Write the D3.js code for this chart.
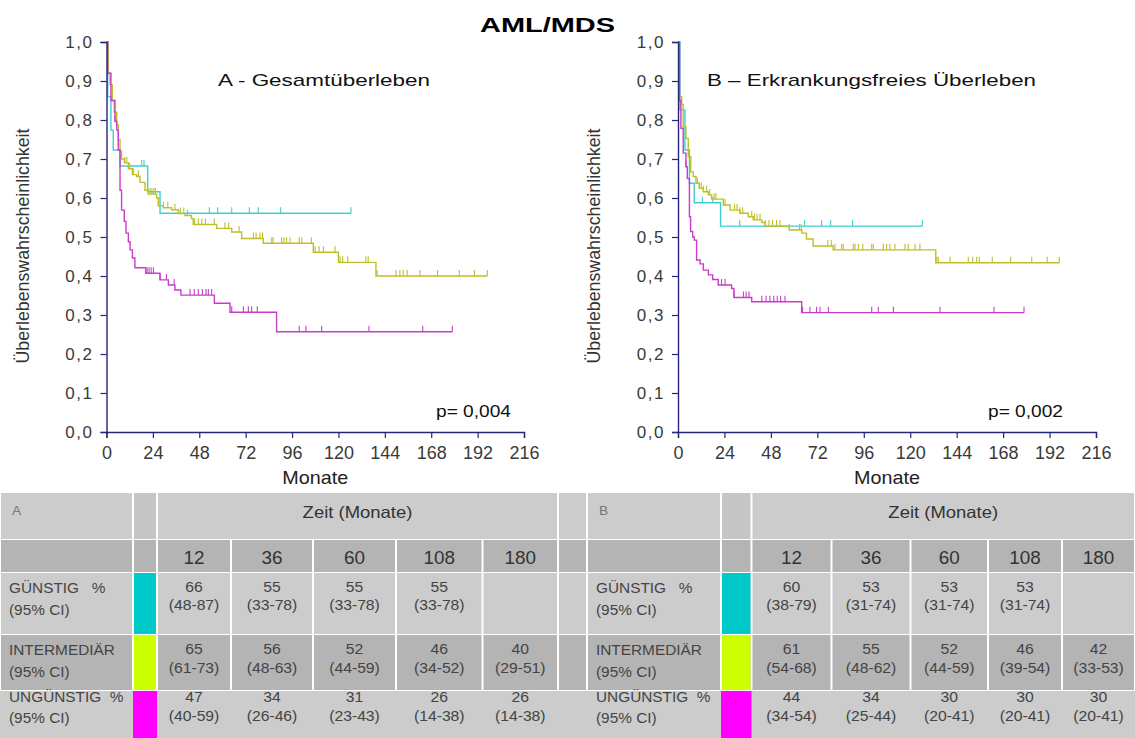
<!DOCTYPE html>
<html>
<head>
<meta charset="utf-8">
<script src="https://cdn.jsdelivr.net/npm/d3@7"></script>
<style>
  body { margin: 0; background: #fff; }
  svg { display: block; }
  text { font-family: "Liberation Sans", Arial, Helvetica, sans-serif; }
</style>
</head>
<body>
<script>
// Achsen
const xTicks = [0, 24, 48, 72, 96, 120, 144, 168, 192, 216];
const yTicks = [0, 0.1, 0.2, 0.3, 0.4, 0.5, 0.6, 0.7, 0.8, 0.9, 1.0];

// Kaplan-Meier Stufen [Monat, Überleben] – A Gesamtüberleben
const gunstigA = [[0, 1], [0.6, 0.86], [2.3, 0.774], [3.5, 0.723], [7.0, 0.682], [21.3, 0.616], [27.7, 0.561]];
const gunstigAEnd = 126.5;
const gunstigACens = [18.2, 19.4, 53.2, 57.5, 64.8, 73.9, 78.5, 90.1, 126.5];

const intermedA = [[0, 1], [0.9, 0.92], [1.8, 0.89], [3.0, 0.85], [4.0, 0.82], [5.3, 0.787], [6.1, 0.75], [7.0, 0.72], [7.8, 0.70],
  [9.2, 0.69], [11.3, 0.675], [13.4, 0.66], [15.6, 0.655], [17.3, 0.64], [19.9, 0.62], [21.6, 0.61], [26.0, 0.60], [26.8, 0.58],
  [29.4, 0.575], [33.7, 0.57], [37.2, 0.56], [40.6, 0.555], [44.0, 0.547], [44.9, 0.532], [57.0, 0.522], [64.8, 0.513],
  [69.9, 0.496], [81.1, 0.484], [107, 0.461], [120, 0.435], [139.4, 0.40]];
const intermedAEnd = 197;
const intermedACens = [9.5, 10.5, 12, 14, 16.5, 22.5, 23.5, 24.5, 25.3, 29.5, 31.7, 35.4, 38.2, 40, 41.9, 45.6, 47.5, 49.3, 51.2,
  55.8, 61.3, 63.2, 68.6, 76, 77.4, 79.4, 80.7, 85.5, 86.2, 90.6, 91.8, 93.2, 94.9, 99.7, 101, 106, 107.9, 110, 112.2, 118.2,
  120.8, 122.2, 124.8, 134.2, 135.4, 140, 149.8, 151.8, 153.5, 155.6, 162.2, 171.3, 182.5, 190.3, 197];

const ungunstigA = [[0, 1], [0.6, 0.92], [2.3, 0.85], [4.4, 0.796], [5.3, 0.774], [6.1, 0.723], [7.0, 0.62], [7.8, 0.569],
  [9.2, 0.54], [10.1, 0.51], [11.3, 0.488], [12.2, 0.467], [13.4, 0.446], [14.7, 0.421], [20.3, 0.407], [27.7, 0.39],
  [32, 0.377], [35.4, 0.364], [38.5, 0.351], [55.8, 0.33], [63.9, 0.307], [88, 0.257]];
const ungunstigAEnd = 178.9;
const ungunstigACens = [4.4, 21, 22, 23.1, 24.3, 27.7, 31, 35, 43.2, 45.4, 47.5, 49.6, 51.5, 52.7, 54.4, 64.8, 70.8, 73.4,
  75.1, 78, 99.7, 103.2, 111.3, 135.8, 163.6, 178.9];

// B Erkrankungsfreies Überleben
const gunstigB = [[0, 1], [1.0, 0.826], [3.6, 0.723], [5.9, 0.638], [8.4, 0.588], [22, 0.528]];
const gunstigBEnd = 126.3;
const gunstigBCens = [12.6, 18, 31.9, 65.4, 74.2, 78.9, 90.2, 126.3];

const intermedB = [[0, 1], [0.7, 0.86], [1.9, 0.84], [2.7, 0.783], [4.1, 0.753], [5.3, 0.706], [6.6, 0.667], [7.9, 0.655],
  [9.3, 0.638], [11, 0.625], [13.1, 0.616], [15.7, 0.608], [17.4, 0.597], [23.4, 0.582], [26.9, 0.569], [32, 0.561],
  [36.3, 0.552], [38.9, 0.544], [43.3, 0.537], [45, 0.528], [57.5, 0.518], [64, 0.51], [66.4, 0.495], [69.8, 0.477],
  [80.2, 0.467], [133.2, 0.434]];
const intermedBEnd = 197;
const intermedBCens = [10, 11, 12, 13.1, 14.8, 16.4, 18.7, 19.6, 24.3, 29.2, 30.5, 32, 33.4, 38.1, 39.5, 40.8, 42.4, 45.1, 47,
  48.9, 50.9, 52.7, 57.5, 62.8, 63.7, 77.4, 79.2, 81.1, 84.6, 85.4, 90.6, 91.5, 93.2, 95.5, 100.1, 100.9, 106.1, 107.8,
  109.5, 112.1, 117.3, 119, 122.5, 125, 133.7, 134.5, 140.6, 150, 152.3, 154.3, 155.7, 162.4, 171.9, 182.8, 190.8, 197];

const ungunstigB = [[0, 1], [0.8, 0.85], [1.5, 0.779], [2.7, 0.715], [4.1, 0.68], [4.8, 0.65], [5.9, 0.552], [6.5, 0.514],
  [7.6, 0.50], [8.4, 0.492], [9.6, 0.441], [11.4, 0.431], [13.1, 0.415], [15.7, 0.403], [17.9, 0.391], [20.8, 0.377],
  [27.7, 0.368], [28.9, 0.345], [38.1, 0.334], [63.9, 0.306]];
const ungunstigBEnd = 178.8;
const ungunstigBCens = [4.1, 22.5, 24.3, 29, 33.8, 35.2, 36.7, 43.3, 45.5, 47.5, 49.5, 51.3, 53, 55.3, 64.4, 68.2, 71.6,
  73.4, 77.7, 100.1, 103.5, 111.3, 135.4, 163.3, 178.8];

// Tabelle
const timeCols = ['12', '36', '60', '108', '180'];
const groupNames = ['GÜNSTIG   %', 'INTERMEDIÄR', 'UNGÜNSTIG  %'];
const ciLabel = '(95% CI)';
const tableA = [
  [['66', '(48-87)'], ['55', '(33-78)'], ['55', '(33-78)'], ['55', '(33-78)'], null],
  [['65', '(61-73)'], ['56', '(48-63)'], ['52', '(44-59)'], ['46', '(34-52)'], ['40', '(29-51)']],
  [['47', '(40-59)'], ['34', '(26-46)'], ['31', '(23-43)'], ['26', '(14-38)'], ['26', '(14-38)']]
];
const tableB = [
  [['60', '(38-79)'], ['53', '(31-74)'], ['53', '(31-74)'], ['53', '(31-74)'], null],
  [['61', '(54-68)'], ['55', '(48-62)'], ['52', '(44-59)'], ['46', '(39-54)'], ['42', '(33-53)']],
  [['44', '(34-54)'], ['34', '(25-44)'], ['30', '(20-41)'], ['30', '(20-41)'], ['30', '(20-41)']]
];

// Farben
const lineColors = ['#3dcfd2', '#bfbf2a', '#c93dcb'];
const swatchColors = ['#00c9c9', '#ccff00', '#ff00ff'];
const axisColor = '#26267a';
const lightCell = '#cccccc';
const darkCell = '#b4b4b4';

const svg = d3.select('body').append('svg')
  .attr('width', 1135)
  .attr('height', 738);

// Text-Helfer (Bild ist horizontal gestreckt)
const label = (g, str, x, y, o = {}) => {
  const t = g.append('text')
    .attr('transform', `translate(${x},${y}) scale(${o.sx || 1},1)`)
    .attr('font-size', o.size || 14)
    .attr('fill', o.fill || '#333')
    .attr('text-anchor', o.anchor || 'start')
    .style('white-space', 'pre')
    .text(str);
  if (o.weight) t.attr('font-weight', o.weight);
  if (o.len) t.attr('textLength', o.len).attr('lengthAdjust', 'spacingAndGlyphs');
  if (o.spacing) t.attr('letter-spacing', o.spacing);
  return t;
};

label(svg, 'AML/MDS', 480, 32, { size: 21, weight: 'bold', fill: '#000', len: 135 });

const panels = [
  {
    x0: 106.5, x1: 524, title: 'A - Gesamtüberleben', titleX: 218, titleLen: 212,
    p: 'p= 0,004', pX: 436, series: [
      [gunstigA, gunstigAEnd, gunstigACens],
      [intermedA, intermedAEnd, intermedACens],
      [ungunstigA, ungunstigAEnd, ungunstigACens]
    ]
  },
  {
    x0: 678, x1: 1096, title: 'B \u2013 Erkrankungsfreies Überleben', titleX: 707, titleLen: 329,
    p: 'p= 0,002', pX: 988, series: [
      [gunstigB, gunstigBEnd, gunstigBCens],
      [intermedB, intermedBEnd, intermedBCens],
      [ungunstigB, ungunstigBEnd, ungunstigBCens]
    ]
  }
];

const yTop = 42, yBottom = 432;
const fmt = d3.format('.1f');

panels.forEach(pn => {
  const x = d3.scaleLinear().domain([0, 216]).range([pn.x0, pn.x1]);
  const y = d3.scaleLinear().domain([0, 1]).range([yBottom, yTop]);
  const g = svg.append('g');

  // Kurven
  pn.series.forEach(([steps, end, cens], i) => {
    const pts = steps.concat([[end, steps[steps.length - 1][1]]]);
    const line = d3.line().x(d => x(d[0])).y(d => y(d[1])).curve(d3.curveStepAfter);
    g.append('path')
      .attr('d', line(pts))
      .attr('fill', 'none')
      .attr('stroke', lineColors[i])
      .attr('stroke-width', 1.4);
    const survAt = t => {
      let v = 1;
      steps.forEach(s => { if (s[0] <= t) v = s[1]; });
      return v;
    };
    g.selectAll(null).data(cens).enter().append('line')
      .attr('x1', d => x(d)).attr('x2', d => x(d))
      .attr('y1', d => y(survAt(d))).attr('y2', d => y(survAt(d)) - 6)
      .attr('stroke', lineColors[i])
      .attr('stroke-width', 1.1);
  });

  // Achsen
  const yAxis = g.append('g').attr('transform', `translate(${pn.x0},0)`)
    .call(d3.axisLeft(y).tickValues(yTicks).tickSize(6).tickPadding(7).tickFormat(d => fmt(d).replace('.', ',')));
  const xAxis = g.append('g').attr('transform', `translate(0,${yBottom})`)
    .call(d3.axisBottom(x).tickValues(xTicks).tickSize(6).tickPadding(8));
  [yAxis, xAxis].forEach(a => {
    a.select('.domain').attr('stroke', axisColor).attr('stroke-width', 1.4);
    a.selectAll('.tick line').attr('stroke', axisColor).attr('stroke-width', 1.2);
    a.selectAll('text').attr('fill', '#3a3a3a').attr('font-family', '"Liberation Sans", Arial, sans-serif');
  });
  yAxis.selectAll('text').attr('font-size', 17).attr('letter-spacing', 1.5);
  xAxis.selectAll('text').attr('font-size', 18);

  // Beschriftungen
  label(g, pn.title, pn.titleX, 86, { size: 17, fill: '#111', len: pn.titleLen });
  label(g, pn.p, pn.pX, 417, { size: 17, fill: '#111', len: 75 });
  label(g, 'Monate', (pn.x0 + pn.x1) / 2, 484, { size: 19, fill: '#222', anchor: 'middle', len: 66 });
  g.append('text')
    .attr('transform', `translate(${pn.x0 - 78},246) rotate(-90)`)
    .attr('text-anchor', 'middle')
    .attr('font-size', 17.5)
    .attr('fill', '#333')
    .attr('textLength', 235)
    .attr('lengthAdjust', 'spacingAndGlyphs')
    .text('Überlebenswahrscheinlichkeit');
});

// Tabellen
const rowEdges = [493, 539, 572, 634, 690, 738];
const tables = [
  { id: 'A', cols: [0, 133, 157, 231, 313, 396, 482.5, 558], data: tableA },
  { id: 'B', cols: [587, 721, 751.5, 831.5, 910.5, 988, 1062, 1135], data: tableB }
];
const labelY = [[593, 615], [655, 677], [702, 723]];
const valueY = [[592, 610], [654, 673], [702, 721]];
const tg = svg.append('g');
const cell = (x0, x1, y0, y1, fill, inset = 1) => tg.append('rect')
  .attr('x', x0 + inset).attr('y', y0 + 1)
  .attr('width', Math.max(0, x1 - x0 - 2 * inset)).attr('height', y1 - y0 - 1)
  .attr('fill', fill);

// Zwischenspalte
cell(558, 587, rowEdges[0] - 1, rowEdges[1], lightCell);
cell(558, 587, rowEdges[1], rowEdges[2], darkCell);
cell(558, 587, rowEdges[2], rowEdges[3], lightCell);
cell(558, 587, rowEdges[3], rowEdges[4], darkCell);

tables.forEach(tb => {
  const c = tb.cols;
  const sx = 1.06;
  // Kopfzeile
  cell(c[0], c[1], rowEdges[0] - 1, rowEdges[1], lightCell);
  cell(c[1], c[2], rowEdges[0] - 1, rowEdges[1], '#c6c6c6');
  cell(c[2], c[7], rowEdges[0] - 1, rowEdges[1], lightCell);
  label(tg, tb.id, c[0] + 12, 515, { size: 13, fill: '#777', sx });
  label(tg, 'Zeit (Monate)', (c[2] + c[7]) / 2, 518, { size: 16.5, fill: '#333', anchor: 'middle', sx: 1.12 });
  // Zeitpunkte
  for (let i = 0; i < 7; i++) cell(c[i], c[i + 1], rowEdges[1], rowEdges[2], darkCell);
  timeCols.forEach((t, i) => {
    label(tg, t, (c[i + 2] + c[i + 3]) / 2, 564, { size: 18, fill: '#333', anchor: 'middle', sx: 1.05 });
  });
  // Gruppen
  groupNames.forEach((name, r) => {
    const y0 = rowEdges[r + 2], y1 = rowEdges[r + 3];
    const fill = r === 1 ? darkCell : lightCell;
    if (r < 2) {
      for (let i = 0; i < 7; i++) cell(c[i], c[i + 1], y0, y1, fill);
    } else {
      cell(c[0], c[7], y0, y1 + 1, fill, 0);
    }
    cell(c[1], c[2], y0, y1 + (r === 2 ? 1 : 0), swatchColors[r], r === 2 ? 0 : 1);
    label(tg, name, c[0] + 9, labelY[r][0], { size: 14.5, fill: '#444', sx });
    label(tg, ciLabel, c[0] + 9, labelY[r][1], { size: 14.5, fill: '#444', sx });
    tb.data[r].forEach((v, i) => {
      if (!v) return;
      const cx = (c[i + 2] + c[i + 3]) / 2;
      label(tg, v[0], cx, valueY[r][0], { size: 15, fill: '#444', anchor: 'middle', sx: 1.05 });
      label(tg, v[1], cx, valueY[r][1], { size: 15, fill: '#444', anchor: 'middle', sx: 1.05 });
    });
  });
});
// Zwischenspalte unterste Zeile
cell(558, 587, rowEdges[4], rowEdges[5] + 1, lightCell, 0);
</script>
</body>
</html>
